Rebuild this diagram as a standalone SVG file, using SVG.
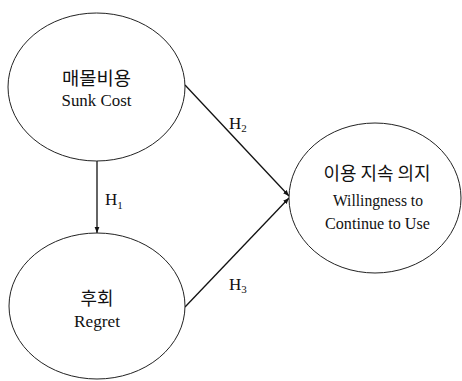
<svg xmlns="http://www.w3.org/2000/svg" width="462" height="381" viewBox="0 0 462 381">
<style>
.node ellipse{fill:#fff;stroke:#222;stroke-width:1}
.kr{font-family:"Noto Sans CJK KR","Noto Sans",sans-serif;font-size:18px;fill:#111;text-anchor:middle}
.en{font-family:"Liberation Serif",serif;font-size:17.5px;fill:#111;text-anchor:middle}
.lab{font-family:"Liberation Serif",serif;font-size:17px;fill:#111}
.sub{font-size:11px}
.edges line{stroke:#111;stroke-width:1.3;fill:none}
</style>
<defs>
<marker id="arr" viewBox="0 0 10 10" refX="10" refY="5" markerWidth="6" markerHeight="6" markerUnits="userSpaceOnUse" orient="auto">
<path d="M0,1 L10,5 L0,9 Z" fill="#111"/>
</marker>
</defs>
<rect width="462" height="381" fill="#fff"/>
<g class="edges">
<line x1="97" y1="161" x2="97" y2="233" marker-end="url(#arr)"/>
<line x1="185" y1="85" x2="289" y2="196" marker-end="url(#arr)"/>
<line x1="185" y1="307" x2="289" y2="198" marker-end="url(#arr)"/>
<text class="lab" x="105" y="205">H<tspan class="sub" dy="4">1</tspan></text>
<text class="lab" x="229" y="129">H<tspan class="sub" dy="3">2</tspan></text>
<text class="lab" x="229" y="290">H<tspan class="sub" dy="3">3</tspan></text>
</g>
<g id="sunk" class="node">
<ellipse cx="96.5" cy="87" rx="88.5" ry="74"/>
<text class="kr" x="96.5" y="85" textLength="69" lengthAdjust="spacingAndGlyphs">매몰비용</text>
<text class="en" x="96.5" y="106" textLength="70" lengthAdjust="spacingAndGlyphs">Sunk Cost</text>
</g>
<g id="regret" class="node">
<ellipse cx="97" cy="306" rx="88" ry="73"/>
<text class="kr" x="97" y="305" textLength="33" lengthAdjust="spacingAndGlyphs">후회</text>
<text class="en" x="97" y="327" textLength="46" lengthAdjust="spacingAndGlyphs">Regret</text>
</g>
<g id="willingness" class="node">
<ellipse cx="375" cy="198" rx="86" ry="75"/>
<text class="kr" x="377" y="180" textLength="107" lengthAdjust="spacingAndGlyphs">이용 지속 의지</text>
<text class="en" x="378" y="206" textLength="90" lengthAdjust="spacingAndGlyphs">Willingness to</text>
<text class="en" x="377.5" y="229" textLength="105" lengthAdjust="spacingAndGlyphs">Continue to Use</text>
</g>
</svg>
